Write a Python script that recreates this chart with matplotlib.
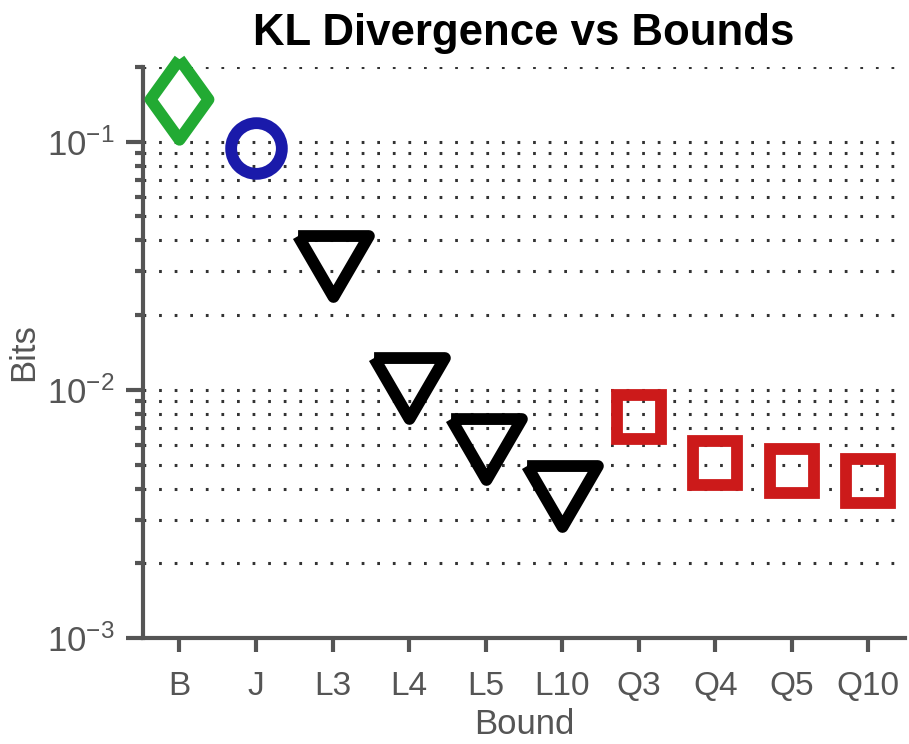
import matplotlib
matplotlib.use("Agg")
import matplotlib.pyplot as plt
from matplotlib.markers import MarkerStyle
from matplotlib.ticker import LogLocator, NullFormatter

# data
bounds = ["B", "J", "L3", "L4", "L5", "L10", "Q3", "Q4", "Q5", "Q10"]
kl_bits = [0.149, 0.0946, 0.0316, 0.0102, 0.00575, 0.00372,
           0.00778, 0.00505, 0.00469, 0.0043]
groups = ["B", "J", "L", "L", "L", "L", "Q", "Q", "Q", "Q"]

grey = "#555555"
plt.rcParams["font.family"] = ["Liberation Sans Narrow", "Liberation Sans", "DejaVu Sans"]

# marker style per group
diamond = MarkerStyle([(0, 1), (0.72, 0), (0, -1), (-0.72, 0), (0, 1)], joinstyle="miter")
tri = MarkerStyle([(-1, 0.86), (1, 0.86), (0, -0.86), (-1, 0.86)], joinstyle="miter")
styles = {
    "B": dict(marker=diamond, color="#22aa33", ms=58, mew=8.5),
    "J": dict(marker="o", color="#1a1aaa", ms=36.5, mew=8.5),
    "L": dict(marker=tri, color="black", ms=51, mew=8.5),
    "Q": dict(marker="s", color="#cc1a1a", ms=31, mew=8.5),
}

fig = plt.figure(figsize=(9.09, 7.44), dpi=100)
ax = fig.add_axes([0.157, 0.1425, 0.8386, 0.7675])

for i, (b, v, g) in enumerate(zip(bounds, kl_bits, groups)):
    st = styles[g]
    ax.plot(i, v, linestyle="none", marker=st["marker"], markersize=st["ms"],
            markeredgewidth=st["mew"], markeredgecolor=st["color"],
            markerfacecolor="none", zorder=3, clip_on=False)

ax.set_yscale("log")
ax.set_ylim(1e-3, 0.2)
ax.set_xlim(-0.48, 9.48)
ax.set_xticks(range(len(bounds)))
ax.set_xticklabels(bounds)
ax.yaxis.set_major_locator(LogLocator(base=10, numticks=10))
ax.yaxis.set_minor_locator(LogLocator(base=10, subs=range(2, 10), numticks=20))
ax.yaxis.set_minor_formatter(NullFormatter())

# dotted horizontal grid on major and minor ticks
ax.grid(True, which="both", axis="y", color="#333333", linewidth=2.2,
        linestyle=(0, (0.9, 4.2)), zorder=0)
ax.set_axisbelow(True)

for side in ["top", "right"]:
    ax.spines[side].set_visible(False)
for side in ["left", "bottom"]:
    ax.spines[side].set_color(grey)
    ax.spines[side].set_linewidth(3)

ax.tick_params(axis="y", which="major", direction="out", length=12, width=3,
               color=grey, labelcolor=grey, labelsize=25, pad=8)
ax.tick_params(axis="y", which="minor", direction="out", length=6, width=3, color=grey)
ax.tick_params(axis="x", which="major", direction="out", length=10, width=3,
               color=grey, labelcolor=grey, labelsize=24, pad=14)

ax.set_xlabel("Bound", fontsize=25, color=grey, labelpad=4)
ax.set_ylabel("Bits", fontsize=25, color=grey, labelpad=5)
ax.set_title("KL Divergence vs Bounds", fontsize=31.5, fontweight="bold",
             family=["Liberation Sans", "DejaVu Sans"], pad=16)

fig.savefig("out.png", dpi=100)
